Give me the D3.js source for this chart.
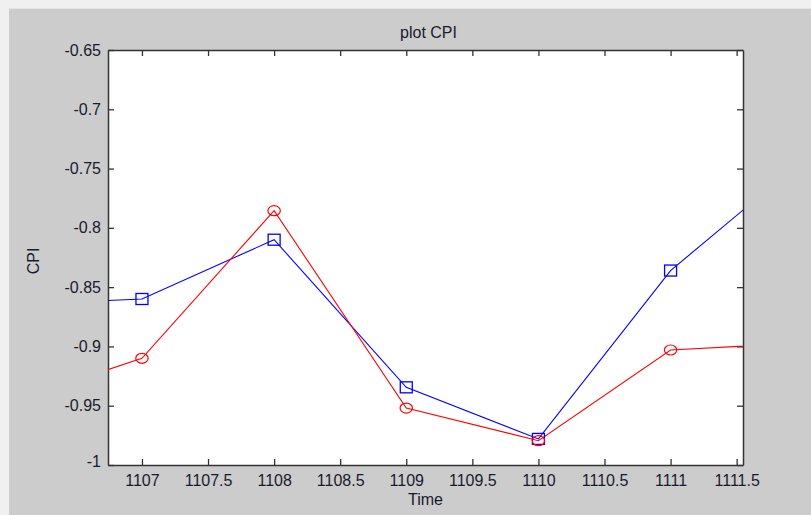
<!DOCTYPE html>
<html>
<head>
<meta charset="utf-8">
<script src="https://cdn.jsdelivr.net/npm/d3@7"></script>
<style>
  body { margin: 0; background: #cccccc; }
  svg text { font-family: "Liberation Sans", Arial, sans-serif; fill: #1a1a2e; }
</style>
</head>
<body>
<div id="chart"></div>
<script>
// Data (points at 1106 and 1112 lie outside the axes and get clipped)
const years = [1106, 1107, 1108, 1109, 1110, 1111, 1112];
const cpiBlue = [-0.865, -0.860, -0.810, -0.9345, -0.978, -0.836, -0.743];
const cpiRed = [-0.947, -0.910, -0.7855, -0.952, -0.9795, -0.903, -0.897];
const xTicks = [1107, 1107.5, 1108, 1108.5, 1109, 1109.5, 1110, 1110.5, 1111, 1111.5];
const yTicks = [-1, -0.95, -0.9, -0.85, -0.8, -0.75, -0.7, -0.65];

const width = 811;
const height = 515;
const plot = { left: 108, top: 50, right: 743, bottom: 465 };
const fontSize = '16px';

const svg = d3.select('#chart')
  .append('svg')
  .attr('width', width)
  .attr('height', height);

// figure background with the light window border top/left
svg.append('rect').attr('width', width).attr('height', height).attr('fill', '#cccccc');
svg.append('rect').attr('width', width).attr('height', 8).attr('fill', '#f0f0f0');
svg.append('rect').attr('width', 9).attr('height', height).attr('fill', '#f0f0f0');
svg.append('line')
  .attr('x1', 9).attr('x2', width).attr('y1', 8.5).attr('y2', 8.5)
  .attr('stroke', '#e4e4e4');

// scales
const xScale = d3.scaleLinear()
  .domain([1106.743, 1111.548])
  .range([plot.left, plot.right]);

const yScale = d3.scaleLinear()
  .domain([-1, -0.65])
  .range([plot.bottom, plot.top]);

// plot area
svg.append('rect')
  .attr('x', plot.left).attr('y', plot.top)
  .attr('width', plot.right - plot.left)
  .attr('height', plot.bottom - plot.top)
  .attr('fill', '#ffffff');

svg.append('clipPath').attr('id', 'clip')
  .append('rect')
  .attr('x', plot.left).attr('y', plot.top)
  .attr('width', plot.right - plot.left)
  .attr('height', plot.bottom - plot.top);

// axes, ticks pointing inward like matlab
const axisColor = '#333333';
const tickLen = 6;

const xBottom = svg.append('g')
  .attr('transform', `translate(0, ${plot.bottom})`)
  .call(d3.axisBottom(xScale).tickValues(xTicks).tickSizeInner(-tickLen).tickSizeOuter(0).tickPadding(10).tickFormat(d => String(d)));
const xTop = svg.append('g')
  .attr('transform', `translate(0, ${plot.top})`)
  .call(d3.axisTop(xScale).tickValues(xTicks).tickSizeInner(-tickLen).tickSizeOuter(0).tickFormat(''));
const yLeft = svg.append('g')
  .attr('transform', `translate(${plot.left}, 0)`)
  .call(d3.axisLeft(yScale).tickValues(yTicks).tickSizeInner(-tickLen).tickSizeOuter(0).tickPadding(7).tickFormat(d => String(+d.toFixed(2))));
const yRight = svg.append('g')
  .attr('transform', `translate(${plot.right}, 0)`)
  .call(d3.axisRight(yScale).tickValues(yTicks).tickSizeInner(-tickLen).tickSizeOuter(0).tickFormat(''));

[xBottom, xTop, yLeft, yRight].forEach(g => {
  g.select('.domain').attr('stroke', axisColor).attr('stroke-width', 1.5);
  g.selectAll('.tick line').attr('stroke', axisColor).attr('stroke-width', 1.3);
  g.selectAll('.tick text')
    .style('font-family', '"Liberation Sans", Arial, sans-serif')
    .style('font-size', fontSize)
    .attr('fill', '#1a1a2e');
});
// the -1 label sits lower on the bottom edge
yLeft.selectAll('.tick text').filter(d => d === -1).attr('dy', '0.1em');

// titles
svg.append('text')
  .text('plot CPI')
  .attr('x', (plot.left + plot.right) / 2 + 3)
  .attr('y', 38)
  .attr('text-anchor', 'middle')
  .style('font-size', fontSize);

svg.append('text')
  .text('Time')
  .attr('x', (plot.left + plot.right) / 2)
  .attr('y', 505)
  .attr('text-anchor', 'middle')
  .style('font-size', fontSize);

svg.append('text')
  .text('CPI')
  .attr('transform', 'translate(39, 261) rotate(-90)')
  .attr('text-anchor', 'middle')
  .style('font-size', fontSize);

// series
const dataArea = svg.append('g').attr('clip-path', 'url(#clip)');

const line = (vals) => d3.line()
  .x((d, i) => xScale(years[i]))
  .y((d) => yScale(d))(vals);

dataArea.append('path')
  .attr('d', line(cpiBlue))
  .attr('fill', 'none')
  .attr('stroke', '#0000ff')
  .attr('stroke-width', 1.1);

dataArea.append('path')
  .attr('d', line(cpiRed))
  .attr('fill', 'none')
  .attr('stroke', '#ff0000')
  .attr('stroke-width', 1.1);

// markers
dataArea.selectAll('.sq')
  .data(cpiBlue)
  .enter()
  .append('rect')
  .attr('class', 'sq')
  .attr('x', (d, i) => xScale(years[i]) - 6)
  .attr('y', (d) => yScale(d) - 5.5)
  .attr('width', 12)
  .attr('height', 11)
  .attr('fill', 'none')
  .attr('stroke', '#0000ff')
  .attr('stroke-width', 1.3);

dataArea.selectAll('.circ')
  .data(cpiRed)
  .enter()
  .append('ellipse')
  .attr('class', 'circ')
  .attr('cx', (d, i) => xScale(years[i]))
  .attr('cy', (d) => yScale(d))
  .attr('rx', 6.2)
  .attr('ry', 5)
  .attr('fill', 'none')
  .attr('stroke', '#ff0000')
  .attr('stroke-width', 1.2);
</script>
</body>
</html>
